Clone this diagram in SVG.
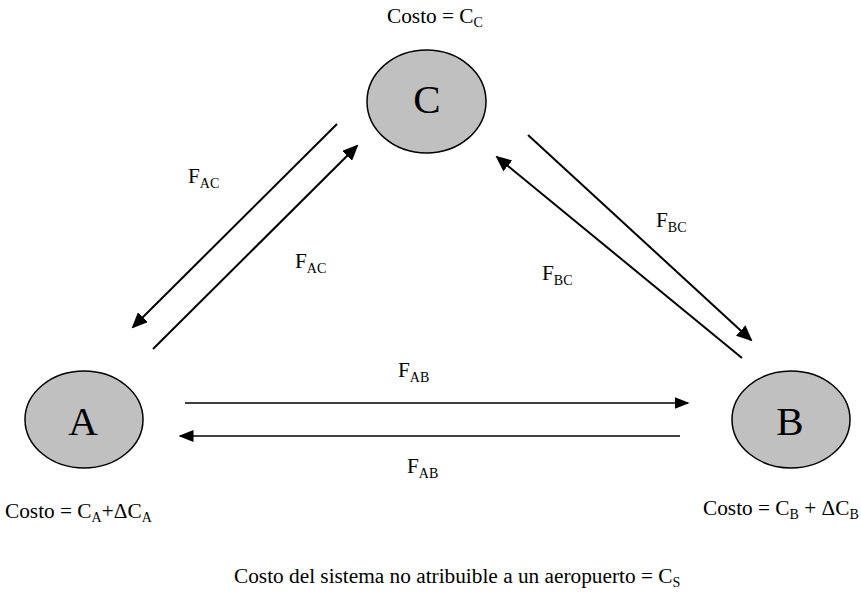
<svg xmlns="http://www.w3.org/2000/svg" width="861" height="599" viewBox="0 0 861 599">
<style>
.node{fill:#c0c0c0;stroke:#000;stroke-width:1.5}
.big{font-family:"Liberation Serif","Times New Roman",serif;font-size:41px;fill:#000;text-anchor:middle}
.lbl{font-family:"Liberation Serif","Times New Roman",serif;font-size:21.3px;fill:#000}
.sub{font-size:14px}
.ln{stroke:#000;stroke-width:2;fill:none;marker-end:url(#ah)}
.lh{stroke:#000;stroke-width:1.5;fill:none;marker-end:url(#ah2)}
</style>
<defs>
<marker id="ah" markerWidth="8" markerHeight="7" refX="7" refY="3.5" orient="auto" markerUnits="strokeWidth"><path d="M0,0 L8,3.5 L0,7 Z" fill="#000"/></marker>
<marker id="ah2" markerWidth="10" markerHeight="8" refX="9" refY="4" orient="auto" markerUnits="strokeWidth"><path d="M0,0 L10,4 L0,8 Z" fill="#000"/></marker>
</defs>
<rect width="861" height="599" fill="#fff"/>
<g id="node-C">
<ellipse class="node" cx="426.5" cy="101.5" rx="59.5" ry="51.5"/>
<text class="big" x="427" y="113">C</text>
<text class="lbl" x="387" y="23">Costo = C<tspan class="sub" dy="4">C</tspan></text>
</g>
<g id="node-A">
<ellipse class="node" cx="84" cy="419.5" rx="59" ry="48.5"/>
<text class="big" x="83" y="435">A</text>
<text class="lbl" x="5" y="518">Costo = C<tspan class="sub" dy="4">A</tspan><tspan dy="-4">+ΔC</tspan><tspan class="sub" dy="4">A</tspan></text>
</g>
<g id="node-B">
<ellipse class="node" cx="791" cy="419.5" rx="59" ry="48.5"/>
<text class="big" x="790" y="435">B</text>
<text class="lbl" x="703" y="515">Costo = C<tspan class="sub" dy="4">B</tspan><tspan dy="-4"> + ΔC</tspan><tspan class="sub" dy="4">B</tspan></text>
</g>
<g id="connectors">
<line class="ln" x1="337" y1="124" x2="133" y2="327"/>
<line class="ln" x1="153" y1="349" x2="357" y2="146"/>
<line class="ln" x1="528" y1="135" x2="751" y2="340"/>
<line class="ln" x1="742" y1="358" x2="497" y2="157"/>
<line class="lh" x1="185" y1="403" x2="688" y2="403"/>
<line class="lh" x1="680" y1="436" x2="180" y2="436"/>
</g>
<g id="labels">
<text class="lbl" x="188" y="183">F<tspan class="sub" dy="5">AC</tspan></text>
<text class="lbl" x="295" y="268">F<tspan class="sub" dy="5">AC</tspan></text>
<text class="lbl" x="656" y="227">F<tspan class="sub" dy="5">BC</tspan></text>
<text class="lbl" x="542" y="280">F<tspan class="sub" dy="5">BC</tspan></text>
<text class="lbl" x="398" y="377">F<tspan class="sub" dy="5">AB</tspan></text>
<text class="lbl" x="407" y="473">F<tspan class="sub" dy="5">AB</tspan></text>
<text class="lbl" x="234" y="583">Costo del sistema no atribuible a un aeropuerto = C<tspan class="sub" dy="4">S</tspan></text>
</g>
</svg>
